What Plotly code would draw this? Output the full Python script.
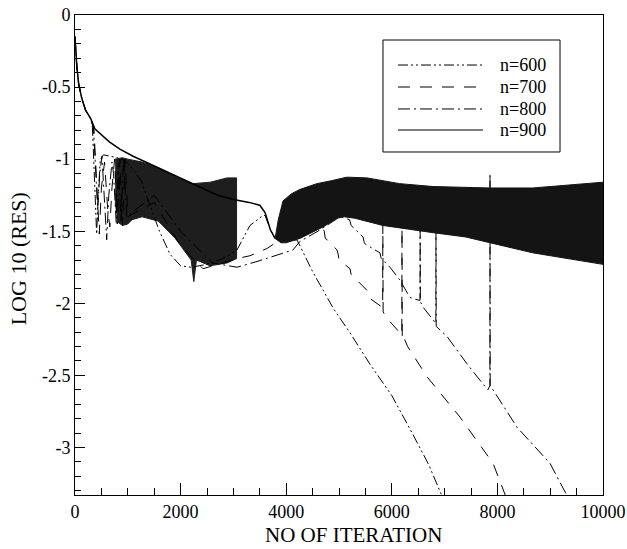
import plotly.graph_objects as go

# ---------------- data ----------------
# shared start of all four runs
START_X = [0, 15, 35, 70, 130, 200, 260, 300]
START_Y = [-0.15, -0.25, -0.36, -0.48, -0.58, -0.66, -0.70, -0.72]

# n=900 smooth part
N900_X = [375, 500, 650, 850, 1100, 1400, 1750, 2100, 2400, 2700, 3000, 3300, 3500, 3600, 3700, 3790]
N900_Y = [-0.79, -0.83, -0.88, -0.93, -0.98, -1.03, -1.09, -1.15, -1.20, -1.25, -1.28, -1.30, -1.32, -1.37, -1.49, -1.55]

# n=900 dense oscillation band (upper / lower envelope)
BAND_UP_X = [3790, 3850, 3940, 4100, 4260, 4580, 4850, 5150, 5530, 6150, 6780, 7860, 8670, 9300, 10000]
BAND_UP_Y = [-1.55, -1.42, -1.29, -1.24, -1.21, -1.17, -1.15, -1.125, -1.13, -1.17, -1.19, -1.20, -1.20, -1.18, -1.16]
BAND_LO_X = [3790, 3900, 4000, 4260, 4700, 4960, 5100, 5300, 5830, 6780, 7400, 7860, 8670, 9300, 10000]
BAND_LO_Y = [-1.55, -1.58, -1.58, -1.55, -1.47, -1.41, -1.40, -1.41, -1.46, -1.51, -1.54, -1.58, -1.65, -1.69, -1.73]

# early dense oscillation (n=700 / n=800) envelope
OSC_UP_X = [760, 900, 1000, 1270, 1580, 1900, 2230, 2560, 2880, 3060]
OSC_UP_Y = [-1.00, -0.99, -1.00, -1.02, -1.06, -1.12, -1.17, -1.16, -1.13, -1.13]
OSC_LO_X = [760, 820, 900, 1000, 1080, 1270, 1580, 1900, 2200, 2250, 2300, 2560, 2880, 3060]
OSC_LO_Y = [-1.30, -1.44, -1.46, -1.45, -1.42, -1.40, -1.43, -1.55, -1.70, -1.85, -1.70, -1.74, -1.72, -1.69]

# n=600
N600_X = [330, 370, 410, 440, 480, 540, 650, 800, 950, 1100, 1250, 1400, 1600, 1800, 2000, 2200, 2500,
          2800, 3068, 3314, 3560, 3600, 3700, 3790, 3900, 4205, 4500, 4900, 5200, 5600, 6000, 6400, 6700, 7000]
N600_Y = [-0.78, -1.10, -1.52, -1.25, -1.00, -0.97, -0.98, -0.99, -1.01, -1.07, -1.15, -1.30, -1.50, -1.66, -1.74, -1.75, -1.73,
          -1.69, -1.63, -1.46, -1.39, -1.39, -1.49, -1.55, -1.57, -1.56, -1.78, -2.04, -2.20, -2.43, -2.64, -2.91, -3.12, -3.38]

# n=700
N700_X = [360, 420, 460, 500, 560, 620, 660, 700, 750, 800, 850, 900, 950, 1000, 1500, 2000, 2424, 2800, 3068, 3314, 3636, 3800, 4200,
          4697, 4720, 4740, 4780, 4962, 4985, 5000, 5040, 5208, 5230, 5260, 5530, 5550, 5600, 5790,
          5827, 5830, 5836, 5900, 6100, 6190, 6193, 6198, 6230, 6300, 6667, 7292, 7917, 8180]
N700_Y = [-0.80, -1.30, -1.52, -1.20, -1.02, -1.35, -1.47, -1.20, -1.00, -1.45, -1.00, -1.46, -1.00, -1.40, -1.30, -1.60, -1.76, -1.72, -1.69, -1.67, -1.62, -1.58, -1.52,
          -1.48, -1.50, -1.55, -1.56, -1.63, -1.66, -1.70, -1.71, -1.76, -1.80, -1.81, -1.91, -1.95, -1.97, -2.02,
          -2.03, -1.45, -2.06, -2.10, -2.18, -2.22, -1.48, -2.26, -2.24, -2.30, -2.51, -2.79, -3.11, -3.36]

# n=800
N800_X = [350, 390, 430, 470, 510, 560, 600, 640, 700, 730, 780, 820, 870, 920, 980, 1500, 2000, 2600, 3068, 3447, 3800, 4129, 4262,
          4600, 5019, 5200, 5230, 5260, 5455, 5480, 5500, 5776, 5800, 5830, 5966, 6155, 6345, 6420, 6534,
          6537, 6541, 6600, 6700, 6834, 6837, 6841, 7045, 7424, 7727, 7822, 7858, 7860, 7863, 7917, 8371, 8996, 9340]
N800_Y = [-0.79, -1.05, -1.35, -1.10, -0.98, -1.30, -1.56, -1.25, -1.02, -1.10, -1.44, -1.02, -1.43, -0.99, -1.40, -1.25, -1.50, -1.72, -1.75, -1.71, -1.67, -1.63, -1.57,
          -1.50, -1.40, -1.42, -1.46, -1.47, -1.54, -1.58, -1.59, -1.65, -1.69, -1.70, -1.75, -1.84, -1.96, -1.97, -1.98,
          -1.49, -1.99, -2.03, -2.08, -2.14, -1.51, -2.16, -2.23, -2.42, -2.56, -2.60, -2.57, -1.10, -2.58, -2.60, -2.86, -3.11, -3.35]

X_TICKS = [0, 2000, 4000, 6000, 8000, 10000]
X_TICK_TEXT = ["0", "2000", "4000", "6000", "8000", "10000"]
X_MINOR_TICKS = list(range(0, 10001, 500))
Y_TICKS = [0, -0.5, -1, -1.5, -2, -2.5, -3]
Y_TICK_TEXT = ["0", "-0.5", "-1", "-1.5", "-2", "-2.5", "-3"]
Y_MINOR_TICKS = [round(-0.1 * k, 1) for k in range(0, 34)]

SERIES_NAMES = ["n=600", "n=700", "n=800", "n=900"]
SERIES_DASH = ["10px,3px,2px,3px,2px,3px", "12px,10px", "12px,4px,2px,4px", "solid"]
SERIES_WIDTH = [1, 1, 1, 1.5]

FONT = "Liberation Serif, Times New Roman, serif"

fig = go.Figure()

# early dense oscillation region (closed polygon from the two envelopes)
fig.add_trace(go.Scatter(
    x=OSC_UP_X + OSC_LO_X[::-1], y=OSC_UP_Y + OSC_LO_Y[::-1],
    fill="toself", fillcolor="#1e1e1e", mode="lines",
    line=dict(color="#1e1e1e", width=1), showlegend=False, hoverinfo="skip"))

series_x = [START_X + N600_X, START_X + N700_X, START_X + N800_X, START_X + N900_X]
series_y = [START_Y + N600_Y, START_Y + N700_Y, START_Y + N800_Y, START_Y + N900_Y]

for i in range(3):
    fig.add_trace(go.Scatter(x=series_x[i], y=series_y[i], mode="lines", name=SERIES_NAMES[i],
                             showlegend=False,
                             line=dict(color="black", width=SERIES_WIDTH[i], dash=SERIES_DASH[i])))

# n=900 oscillation band
fig.add_trace(go.Scatter(
    x=BAND_UP_X + BAND_LO_X[::-1], y=BAND_UP_Y + BAND_LO_Y[::-1],
    fill="toself", fillcolor="#141414", mode="lines",
    line=dict(color="#141414", width=1), showlegend=False, hoverinfo="skip"))
fig.add_trace(go.Scatter(x=series_x[3], y=series_y[3], mode="lines", name=SERIES_NAMES[3],
                         showlegend=False,
                         line=dict(color="black", width=SERIES_WIDTH[3], dash=SERIES_DASH[3])))

axis_common = dict(showline=True, linecolor="black", linewidth=1, mirror=True, automargin=False,
                   showgrid=False, zeroline=False, ticks="inside", tickcolor="black",
                   tickfont=dict(family=FONT, size=18, color="black"))

fig.update_xaxes(range=[0, 10000], tickmode="array", tickvals=X_TICKS, ticktext=X_TICK_TEXT, ticklen=12,
                 minor=dict(tickmode="array", tickvals=X_MINOR_TICKS, ticks="inside", ticklen=7,
                            tickcolor="black", showgrid=False),
                 **axis_common)
fig.update_yaxes(range=[-3.33, 0], tickmode="array", tickvals=Y_TICKS, ticktext=Y_TICK_TEXT, ticklen=10,
                 minor=dict(tickmode="array", tickvals=Y_MINOR_TICKS, ticks="inside", ticklen=6,
                            tickcolor="black", showgrid=False),
                 **axis_common)

# ---- hand-built legend box (long line samples as in the reference) ----
LEG_X0, LEG_X1, LEG_Y0, LEG_Y1 = 0.5833, 0.9186, 0.7146, 0.9479
LEG_LINE_X0, LEG_LINE_X1, LEG_TEXT_X = 0.6117, 0.7727, 0.8011
LEG_ROWS_Y = [0.8958, 0.8500, 0.8042, 0.7604]

shapes = [dict(type="rect", xref="paper", yref="paper", x0=LEG_X0, x1=LEG_X1, y0=LEG_Y0, y1=LEG_Y1,
               line=dict(color="black", width=1), fillcolor="white", layer="above")]
annotations = []
for name, dash, w, yy in zip(SERIES_NAMES, SERIES_DASH, SERIES_WIDTH, LEG_ROWS_Y):
    shapes.append(dict(type="line", xref="paper", yref="paper", x0=LEG_LINE_X0, x1=LEG_LINE_X1, y0=yy, y1=yy,
                       line=dict(color="black", width=1, dash=dash), layer="above"))
    annotations.append(dict(text=name, xref="paper", yref="paper", x=LEG_TEXT_X, y=yy,
                            xanchor="left", yanchor="middle", showarrow=False,
                            font=dict(family=FONT, size=18, color="black")))

annotations += [
    dict(text="NO OF ITERATION", xref="paper", yref="paper", x=0.528, y=-0.083,
         xanchor="center", yanchor="middle", showarrow=False,
         font=dict(family=FONT, size=21, color="black")),
    dict(text="LOG 10 (RES)", xref="paper", yref="paper", x=-0.108, y=0.493,
         xanchor="center", yanchor="middle", textangle=-90, showarrow=False,
         font=dict(family=FONT, size=22, color="black")),
]

fig.update_layout(
    width=627, height=549,
    margin=dict(l=75, r=24, t=15, b=54),
    paper_bgcolor="white", plot_bgcolor="white",
    font=dict(family=FONT, size=18, color="black"),
    shapes=shapes, annotations=annotations,
    showlegend=False,
)

fig.write_html("out.html")
